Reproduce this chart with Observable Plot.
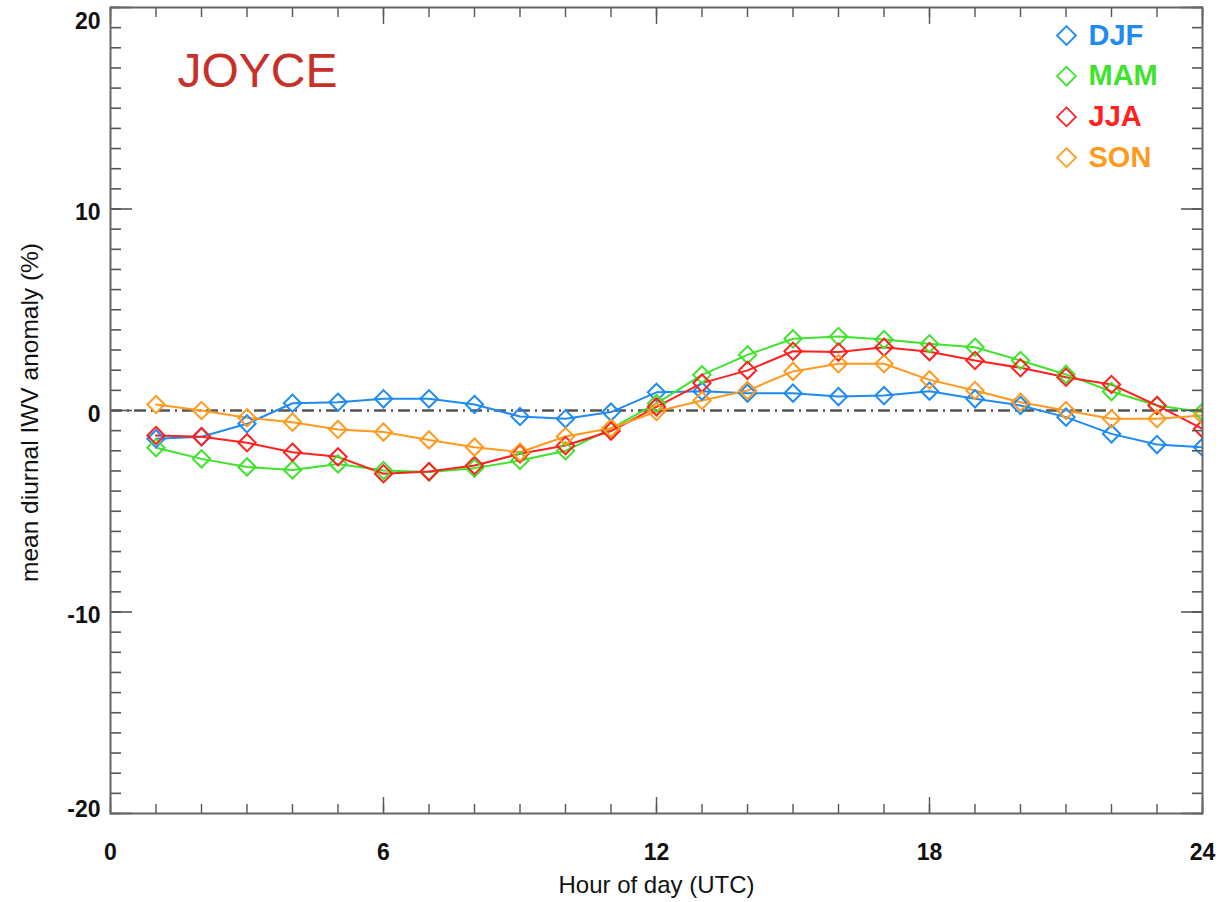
<!DOCTYPE html>
<html>
<head>
<meta charset="utf-8">
<script src="https://cdn.jsdelivr.net/npm/d3@7"></script>
<script src="https://cdn.jsdelivr.net/npm/@observablehq/plot@0.6"></script>
<style>
  html, body { margin: 0; padding: 0; background: #fff; }
  #chart svg { display: block; }
</style>
</head>
<body>
<div id="chart"></div>
<script>
// ---- data ----
const hours = d3.range(1, 25);
const seasons = ["DJF", "MAM", "JJA", "SON"];
const seasonColors = ["#1f8bf2", "#3fe22c", "#ff2020", "#ff9a1e"];
const djf = [-1.40, -1.30, -0.66, 0.36, 0.41, 0.58, 0.58, 0.30, -0.30, -0.41, -0.08, 0.90, 0.96, 0.86, 0.86, 0.69, 0.74, 0.96, 0.58, 0.25, -0.33, -1.16, -1.69, -1.82];
const mam = [-1.85, -2.40, -2.80, -2.95, -2.65, -2.98, -3.05, -2.86, -2.48, -2.00, -0.90, 0.35, 1.77, 2.76, 3.56, 3.67, 3.52, 3.31, 3.14, 2.48, 1.79, 0.94, 0.25, -0.08];
const jja = [-1.24, -1.30, -1.60, -2.07, -2.30, -3.14, -3.03, -2.73, -2.15, -1.74, -1.02, 0.18, 1.36, 1.99, 2.94, 2.90, 3.14, 2.92, 2.48, 2.12, 1.65, 1.29, 0.25, -0.91];
const son = [0.30, 0.00, -0.36, -0.58, -0.94, -1.07, -1.46, -1.82, -2.07, -1.29, -0.88, -0.05, 0.50, 0.99, 1.94, 2.32, 2.32, 1.52, 0.99, 0.41, 0.00, -0.41, -0.41, -0.25];
const xMajorTicks = [0, 6, 12, 18, 24];
const xMinorTicks = d3.range(0, 25);
const yMajorTicks = [-20, -10, 0, 10, 20];
const yMinorTicks = d3.range(-20, 21);
const stationName = "JOYCE";
const xTitle = "Hour of day (UTC)";
const yTitle = "mean diurnal IWV anomaly (%)";

const seriesValues = [djf, mam, jja, son];
const rows = seasons.flatMap((s, i) => hours.map((h, j) => ({season: s, hour: h, value: seriesValues[i][j]})));

const tickColor = "#555";
const labelFont = "'Liberation Sans', Arial, sans-serif";
const plain = d => String(d);

const legendMarks = seasons.flatMap((s, i) => [
  Plot.dot([s], {frameAnchor: "top-right", dx: -136, dy: 28 + i * 40.7, symbol: "diamond2", r: 8.5,
    stroke: d => d, strokeWidth: 1.8, fill: "none"}),
  Plot.text([s], {frameAnchor: "top-right", dx: -114, dy: 28 + i * 40.7, text: d => d, fill: d => d,
    textAnchor: "start", lineAnchor: "middle", fontSize: 29, fontWeight: "bold", fontFamily: labelFont})
]);

const tickOpts = (extra) => Object.assign({tickFormat: () => "", label: null, stroke: tickColor}, extra);
const labOpts = (extra) => Object.assign({tickSize: 0, tickFormat: plain, label: null, fontSize: 23, fontWeight: "bold", fill: "#111"}, extra);

const chart = Plot.plot({
  width: 1226,
  height: 902,
  marginLeft: 110,
  marginRight: 24,
  marginTop: 7,
  marginBottom: 89,
  x: {domain: [0, 24]},
  y: {domain: [-20, 20]},
  color: {domain: seasons, range: seasonColors},
  style: {fontFamily: labelFont, color: "#111", background: "#fff"},
  marks: [
    Plot.ruleY([0], {stroke: "#555", strokeWidth: 2.6, strokeDasharray: "12,5,2,5"}),
    Plot.line(rows, {x: "hour", y: "value", z: "season", stroke: "season", strokeWidth: 2, clip: true}),
    Plot.dot(rows, {x: "hour", y: "value", stroke: "season", symbol: "diamond2", r: 7.8,
      strokeWidth: 2, fill: "none", clip: true}),
    // minor & major ticks, inward
    Plot.axisY(yMinorTicks, tickOpts({anchor: "left", tickSize: -11, strokeWidth: 1.6})),
    Plot.axisY(yMinorTicks, tickOpts({anchor: "right", tickSize: -11, strokeWidth: 1.6})),
    Plot.axisY(yMajorTicks, tickOpts({anchor: "left", tickSize: -22, strokeWidth: 1.6})),
    Plot.axisY(yMajorTicks, tickOpts({anchor: "right", tickSize: -22, strokeWidth: 1.6})),
    Plot.axisX(xMinorTicks, tickOpts({anchor: "bottom", tickSize: -9, strokeWidth: 1.4})),
    Plot.axisX(xMinorTicks, tickOpts({anchor: "top", tickSize: -9, strokeWidth: 1.4})),
    Plot.axisX(xMajorTicks, tickOpts({anchor: "bottom", tickSize: -16, strokeWidth: 1.4})),
    Plot.axisX(xMajorTicks, tickOpts({anchor: "top", tickSize: -16, strokeWidth: 1.4})),
    // tick labels
    Plot.axisY(yMajorTicks.filter(v => Math.abs(v) < 20), labOpts({anchor: "left", tickPadding: 10, dy: 4})),
    Plot.axisY([20], labOpts({anchor: "left", tickPadding: 10, dy: 14})),
    Plot.axisY([-20], labOpts({anchor: "left", tickPadding: 10, dy: -4})),
    Plot.axisX(xMajorTicks, labOpts({anchor: "bottom", tickPadding: 30})),
    Plot.frame({stroke: "#666", strokeWidth: 2}),
    // titles
    Plot.text([xTitle], {frameAnchor: "bottom", dy: 72, fontSize: 24, fill: "#111", lineAnchor: "middle"}),
    Plot.text([yTitle], {frameAnchor: "left", dx: -80, dy: 2, rotate: -90, fontSize: 24.5, fill: "#111", lineAnchor: "middle", textAnchor: "middle"}),
    Plot.text([stationName], {frameAnchor: "top-left", dx: 67, dy: 64, fontSize: 48, fill: "#c8302a",
      textAnchor: "start", lineAnchor: "middle", fontFamily: labelFont}),
    ...legendMarks
  ]
});
document.getElementById("chart").append(chart);
</script>
</body>
</html>
